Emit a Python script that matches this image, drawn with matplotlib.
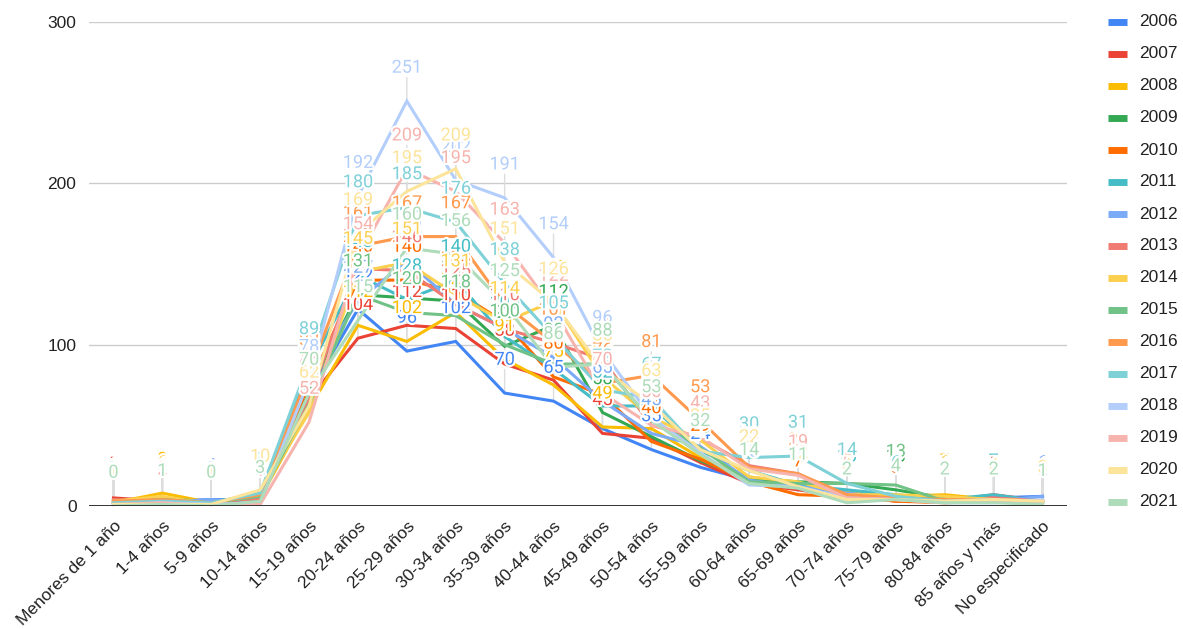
import matplotlib
matplotlib.use("Agg")
import matplotlib.pyplot as plt
import matplotlib.patheffects as pe
from matplotlib.lines import Line2D

# grupos de edad
categorias = ["Menores de 1 año", "1-4 años", "5-9 años", "10-14 años", "15-19 años",
              "20-24 años", "25-29 años", "30-34 años", "35-39 años", "40-44 años",
              "45-49 años", "50-54 años", "55-59 años", "60-64 años", "65-69 años",
              "70-74 años", "75-79 años", "80-84 años", "85 años y más", "No especificado"]

anios = ["2006", "2007", "2008", "2009", "2010", "2011", "2012", "2013",
         "2014", "2015", "2016", "2017", "2018", "2019", "2020", "2021"]

v2006 = [2, 3, 4, 4, 70, 122, 96, 102, 70, 65, 48, 35, 24, 16, 14, 8, 6, 4, 5, 6]
v2007 = [5, 3, 1, 6, 66, 104, 112, 110, 88, 78, 45, 42, 27, 14, 10, 6, 3, 3, 7, 3]
v2008 = [2, 8, 2, 5, 60, 112, 102, 120, 91, 75, 49, 48, 30, 18, 14, 9, 6, 7, 4, 2]
v2009 = [3, 5, 2, 6, 72, 131, 129, 127, 99, 112, 58, 43, 28, 17, 15, 14, 10, 5, 3, 2]
v2010 = [1, 3, 1, 5, 75, 140, 140, 133, 114, 80, 69, 40, 29, 15, 7, 6, 3, 2, 3, 2]
v2011 = [2, 4, 3, 6, 85, 143, 128, 140, 105, 85, 62, 62, 34, 22, 13, 10, 7, 4, 7, 3]
v2012 = [1, 2, 4, 2, 79, 127, 152, 125, 110, 92, 65, 45, 37, 16, 12, 8, 5, 3, 3, 6]
v2013 = [4, 3, 2, 5, 67, 147, 146, 125, 110, 101, 91, 50, 42, 25, 20, 5, 4, 3, 5, 3]
v2014 = [3, 6, 1, 8, 58, 145, 151, 131, 114, 127, 80, 55, 41, 18, 15, 7, 7, 6, 4, 3]
v2015 = [2, 4, 2, 6, 63, 131, 120, 118, 100, 88, 88, 53, 36, 15, 14, 14, 13, 3, 3, 2]
v2016 = [3, 4, 2, 7, 82, 161, 167, 167, 125, 101, 76, 81, 53, 24, 20, 7, 5, 4, 4, 3]
v2017 = [2, 3, 2, 8, 89, 180, 185, 176, 138, 105, 72, 67, 34, 30, 31, 14, 6, 3, 4, 2]
v2018 = [0, 2, 1, 2, 78, 192, 251, 202, 191, 154, 96, 55, 33, 13, 12, 5, 4, 2, 2, 4]
v2019 = [1, 2, 0, 1, 52, 154, 209, 195, 163, 122, 70, 50, 43, 23, 19, 5, 4, 2, 3, 3]
v2020 = [1, 1, 1, 10, 62, 169, 195, 209, 151, 126, 85, 63, 35, 22, 12, 4, 4, 3, 4, 3]
v2021 = [0, 1, 0, 3, 70, 115, 160, 156, 125, 86, 88, 53, 32, 14, 11, 2, 4, 2, 2, 1]

series = [v2006, v2007, v2008, v2009, v2010, v2011, v2012, v2013,
          v2014, v2015, v2016, v2017, v2018, v2019, v2020, v2021]

colores = ["#4285F4", "#EA4335", "#FBBC04", "#34A853", "#FF6D01", "#46BDC6",
           "#7BAAF7", "#F07B72", "#FCD04F", "#71C287", "#FF994D", "#7ED1D7",
           "#B3CEFB", "#F7B4AE", "#FDE49B", "#AEDCBA"]

fig = plt.figure(figsize=(11.83, 6.29), dpi=100)
ax = fig.add_axes([89 / 1183, 123 / 629, 978 / 1183, 484 / 629])

x = list(range(len(categorias)))

# rejilla
for yv in [100, 200, 300]:
    ax.axhline(yv, color="#cccccc", lw=1, zorder=0)
ax.axhline(0, color="#333333", lw=1.4, zorder=5)

# tallos de las etiquetas
for vals in series:
    for i, v in zip(x, vals):
        ax.annotate("", xy=(i, v), xytext=(0, 17), textcoords="offset points",
                    arrowprops=dict(arrowstyle="-", color="#dddddd", lw=1,
                                    shrinkA=0, shrinkB=0), zorder=1)

# lineas
for vals, c in zip(series, colores):
    ax.plot(x, vals, color=c, lw=2.2, zorder=3, solid_joinstyle="miter")

# etiquetas de datos
for vals, c in zip(series, colores):
    for i, v in zip(x, vals):
        ax.annotate(str(v), xy=(i, v), xytext=(0, 24), textcoords="offset points",
                    ha="center", va="center", color=c, fontsize=13,
                    family=["Roboto", "DejaVu Sans"], zorder=6,
                    path_effects=[pe.withStroke(linewidth=3, foreground="white")])

ax.set_xlim(-0.5, len(categorias) - 0.5)
ax.set_ylim(0, 300)
ax.set_yticks([0, 100, 200, 300])
ax.set_yticklabels(["0", "100", "200", "300"], fontsize=12.5,
                   family="Liberation Sans", color="#222222")
ax.set_xticks(x)
ax.set_xticklabels(categorias, rotation=45, ha="right", rotation_mode="anchor",
                   fontsize=12.5, family="Liberation Sans", color="#222222")
ax.tick_params(axis="both", length=0)
ax.tick_params(axis="x", pad=9)
ax.tick_params(axis="y", pad=9)
for s in ax.spines.values():
    s.set_visible(False)

# leyenda a la derecha
for k, (nombre, c) in enumerate(zip(anios, colores)):
    yp = 1 - (22 + k * 32) / 629
    fig.add_artist(Line2D([1108 / 1183, 1127 / 1183], [yp, yp], color=c, lw=5,
                          solid_capstyle="butt", transform=fig.transFigure))
    fig.text(1139 / 1183, yp, nombre, va="center", ha="left", fontsize=12.5,
             family="Liberation Sans", color="#222222")

fig.savefig("out.png", dpi=100)
